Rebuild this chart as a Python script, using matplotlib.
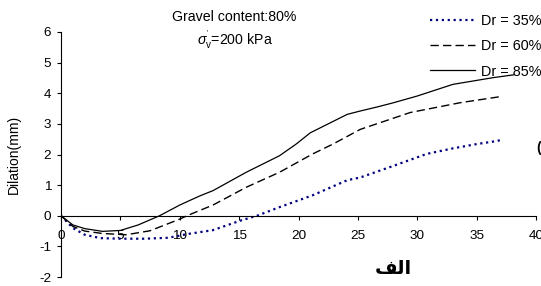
import numpy as np
import matplotlib
matplotlib.use("Agg")
import matplotlib.pyplot as plt

plt.rcParams['font.family'] = ['Liberation Sans', 'DejaVu Sans']
plt.rcParams['mathtext.fontset'] = 'custom'
plt.rcParams['mathtext.rm'] = 'Liberation Sans'
plt.rcParams['mathtext.it'] = 'Liberation Sans:italic'
plt.rcParams['axes.unicode_minus'] = False

# Dr = 35% (dotted, navy)
x35 = [0, 1, 2, 3.3, 5, 7, 9, 10, 10.6, 12.8, 15.1, 16.5, 18.4, 21.2, 24.1, 25.2, 26.9, 28.0, 30.8, 33, 35.0, 36.7, 37.0]
y35 = [0, -0.4, -0.62, -0.73, -0.75, -0.75, -0.72, -0.65, -0.6, -0.47, -0.16, 0.0, 0.28, 0.67, 1.16, 1.25, 1.48, 1.63, 2.02, 2.2, 2.34, 2.44, 2.47]

# Dr = 60% (dashed)
x60 = [0, 1, 2, 3.5, 5.5, 7.5, 10.0, 10.6, 12.8, 15.6, 18.4, 21.2, 22.9, 25.2, 29.4, 33.6, 37.0]
y60 = [0, -0.35, -0.5, -0.58, -0.62, -0.49, -0.11, 0.0, 0.35, 0.93, 1.42, 2.02, 2.34, 2.82, 3.37, 3.69, 3.89]

# Dr = 85% (solid)
x85 = [0, 1, 2, 3.5, 5, 6.5, 8.3, 10.0, 11.7, 12.8, 15.6, 18.4, 19.8, 21.0, 24.1, 25.2, 26.6, 28.0, 30.0, 33.0, 36.4, 38.1]
y85 = [0, -0.3, -0.42, -0.51, -0.48, -0.3, 0.0, 0.35, 0.65, 0.82, 1.42, 1.96, 2.34, 2.71, 3.31, 3.42, 3.55, 3.69, 3.91, 4.29, 4.51, 4.6]

labels = ['Dr = 35%', 'Dr = 60%', 'Dr = 85%']
xticks = [0, 5, 10, 15, 20, 25, 30, 35, 40]
yticks = [-2, -1, 0, 1, 2, 3, 4, 5, 6]

fig = plt.figure(figsize=(5.41, 2.86), dpi=100)
ax = fig.add_axes([61 / 541, 9 / 286, 475 / 541, 245 / 286])

l1, = ax.plot(x35, y35, ':', color='#000080', lw=1.6)
l2, = ax.plot(x60, y60, '--', color='black', lw=1.0, dashes=(6, 3))
l3, = ax.plot(x85, y85, '-', color='black', lw=0.9)

ax.set_xlim(0, 40)
ax.set_ylim(-2, 6)
ax.set_xticks(xticks)
ax.set_yticks(yticks)
ax.spines['top'].set_visible(False)
ax.spines['right'].set_visible(False)
ax.spines['bottom'].set_position(('data', 0))
ax.tick_params(labelsize=9.7, length=3, width=0.8, direction='out')
ax.tick_params(axis='x', pad=7)
ax.tick_params(axis='y', pad=4)
ax.set_ylabel('Dilation(mm)', fontsize=10)
ax.yaxis.set_label_coords(-0.084, 0.5)
ax.patch.set_alpha(0)

fig.text(234 / 541, 1 - 17 / 286, 'Gravel content:80%', fontsize=10.2, ha='center', va='center')
fig.text(235 / 541, 1 - 40 / 286, r"$\sigma^{'}_{\mathrm{v}}$=200 kPa", fontsize=10.2, ha='center', va='center')

fig.legend([l1, l2, l3], labels, loc='upper left', bbox_to_anchor=(430 / 541, 1 - 14 / 286),
           frameon=False, fontsize=10.4, handlelength=3.1, handletextpad=0.45,
           labelspacing=0.78, borderpad=0, borderaxespad=0)

# Arabic caption, written in presentation forms (visual order)
fig.text(393 / 541, 1 - 269 / 286, '\uFED2\uFEDF\uFE8D', fontsize=14, fontweight='bold',
         family='DejaVu Sans', ha='center', va='center')
# cut-off glyph at the right edge
fig.text(536 / 541, 1 - 148 / 286, '(', fontsize=10, fontweight='bold', ha='left', va='center')

fig.savefig('out.png', dpi=100)
